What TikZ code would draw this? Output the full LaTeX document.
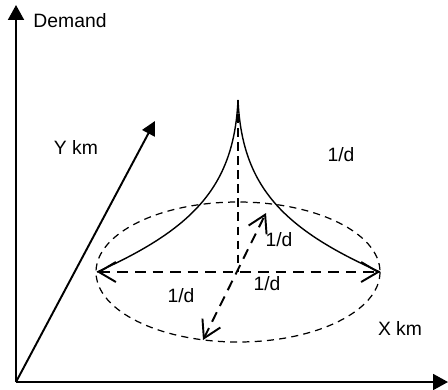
\documentclass[tikz,border=0pt]{standalone}
\usepackage{fontspec}
\setmainfont{Liberation Sans}
\usetikzlibrary{arrows.meta}

\begin{document}
\begin{tikzpicture}[x=0.02cm, y=-0.02cm,
    axis/.style={line width=1.1pt, -{Triangle[length=0.3cm, width=0.32cm]}},
    curve/.style={line width=0.8pt},
    guide/.style={line width=0.8pt, dash pattern=on 5pt off 3pt},
    rim/.style={line width=0.7pt, dash pattern=on 4pt off 3pt},
    measure/.style={line width=1.1pt, dash pattern=on 6pt off 4pt,
        {Straight Barb[length=0.34cm, width=0.4cm, line width=1.1pt]}-{Straight Barb[length=0.34cm, width=0.4cm, line width=1.1pt]}},
    lbl/.style={font=\fontsize{11}{13}\selectfont, inner sep=0pt}]
    \useasboundingbox (0,0) rectangle (448,389);

    % 1. Points
    \coordinate (origin) at (16,382);
    \coordinate (top) at (16,5);
    \coordinate (xend) at (448,382);
    \coordinate (yend) at (155,121);
    \coordinate (peak) at (238,100);
    \coordinate (centre) at (238,272);
    \coordinate (leftend) at (97,272);
    \coordinate (rightend) at (380,272);
    \coordinate (near) at (266,213);
    \coordinate (far) at (203,340);

    % 2. Axes
    \draw[axis] (origin) -- (top);
    \draw[axis] (origin) -- (xend);
    \draw[line width=1.1pt, -{Triangle[length=0.28cm, width=0.28cm]}] (origin) -- (yend);

    % 3. Base of the demand surface
    \draw[rim] (centre) ellipse [x radius=142, y radius=70];

    % 4. Demand surface
    \draw[curve] (peak) .. controls (234,185) and (195,228) .. (leftend);
    \draw[curve] (peak) .. controls (242,185) and (281,228) .. (rightend);
    \draw[guide] (peak) -- (centre);

    % 5. Distances
    \draw[measure] (leftend) -- (rightend);
    \draw[measure] (far) -- (near);

    % 6. Labels
    \node[lbl] (demand) at (70,21) {Demand};
    \node[lbl] (ykm) at (76,147) {Y km};
    \node[lbl] (xkm) at (400,328) {X km};
    \node[lbl] (d1) at (341,155) {1/d};
    \node[lbl] (d2) at (279,240) {1/d};
    \node[lbl] (d3) at (267,284) {1/d};
    \node[lbl] (d4) at (181,296) {1/d};
\end{tikzpicture}
\end{document}
